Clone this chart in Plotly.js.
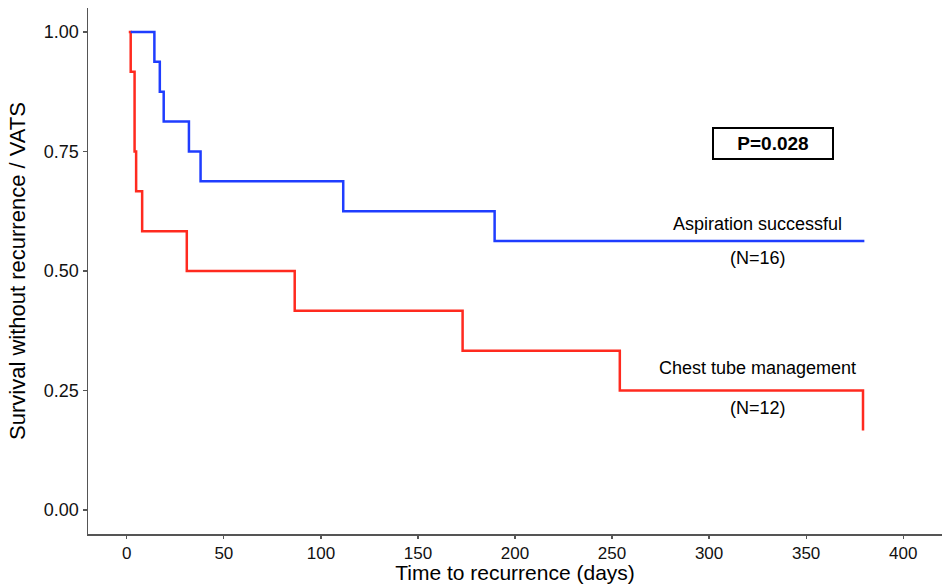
<!DOCTYPE html>
<html>
<head>
<meta charset="utf-8">
<script src="https://cdn.plot.ly/plotly-3.0.1.min.js"></script>
<style>html,body{margin:0;padding:0;background:#fff;}#chart{width:942px;height:584px;}</style>
</head>
<body>
<div id="chart"></div>
<script>
// Aspiration successful (N=16)
var aspTime = [2, 14.2, 17, 19, 32, 38, 111.5, 189.5, 380];
var aspSurv = [1, 0.9375, 0.875, 0.8125, 0.75, 0.6875, 0.625, 0.5625, 0.5625];
// Chest tube management (N=12)
var tubeTime = [1, 2, 4, 4.8, 7.9, 30.9, 86.5, 173, 254, 379.3, 379.3];
var tubeSurv = [1, 0.9167, 0.75, 0.6667, 0.5833, 0.5, 0.4167, 0.3333, 0.25, 0.25, 0.1667];

var xTicks = [0, 50, 100, 150, 200, 250, 300, 350, 400];
var yTicks = [0, 0.25, 0.5, 0.75, 1];
var yTickText = ["0.00", "0.25", "0.50", "0.75", "1.00"];

var FONT = "Arial, 'Liberation Sans', sans-serif";

var traces = [
  {x: tubeTime, y: tubeSurv, type: "scatter", mode: "lines", line: {shape: "hv", color: "#ff2a1f", width: 2.5}, name: "Chest tube management"},
  {x: aspTime, y: aspSurv, type: "scatter", mode: "lines", line: {shape: "hv", color: "#1f3dff", width: 2.5}, name: "Aspiration successful"}
];

var layout = {
  width: 942, height: 584,
  margin: {l: 88, r: 0, t: 8, b: 50},
  paper_bgcolor: "#fff", plot_bgcolor: "#fff",
  showlegend: false,
  font: {family: FONT, color: "#000"},
  xaxis: {
    range: [-20, 420], tickvals: xTicks, ticktext: xTicks.map(String),
    showgrid: false, zeroline: false, showline: true, linecolor: "#555", linewidth: 1.5,
    ticks: "outside", ticklen: 3, tickcolor: "#555", tickwidth: 1.2,
    tickfont: {size: 17, color: "#111"},
    title: {text: "Time to recurrence (days)", font: {size: 21, color: "#000"}, standoff: 8}
  },
  yaxis: {
    range: [-0.05, 1.05], tickvals: yTicks, ticktext: yTickText,
    showgrid: false, zeroline: false, showline: true, linecolor: "#555", linewidth: 1.5,
    ticks: "outside", ticklen: 4, tickcolor: "#555", tickwidth: 1.2,
    tickfont: {size: 18, color: "#111"},
    title: {text: "Survival without recurrence / VATS", font: {size: 22, color: "#000"}, standoff: 12}
  },
  annotations: [
    {x: 333, y: 0.766, xref: "x", yref: "y", text: "<b>P=0.028</b>", showarrow: false,
     font: {size: 19, color: "#000"}, bordercolor: "#000", borderwidth: 2, borderpad: 1, width: 116, height: 27},
    {x: 325, y: 0.598, xref: "x", yref: "y", text: "Aspiration successful", showarrow: false, font: {size: 18, color: "#000"}},
    {x: 325, y: 0.527, xref: "x", yref: "y", text: "(N=16)", showarrow: false, font: {size: 18, color: "#000"}},
    {x: 325, y: 0.297, xref: "x", yref: "y", text: "Chest tube management", showarrow: false, font: {size: 18, color: "#000"}},
    {x: 325, y: 0.213, xref: "x", yref: "y", text: "(N=12)", showarrow: false, font: {size: 18, color: "#000"}}
  ]
};

Plotly.newPlot("chart", traces, layout, {staticPlot: true, displayModeBar: false});
</script>
</body>
</html>
